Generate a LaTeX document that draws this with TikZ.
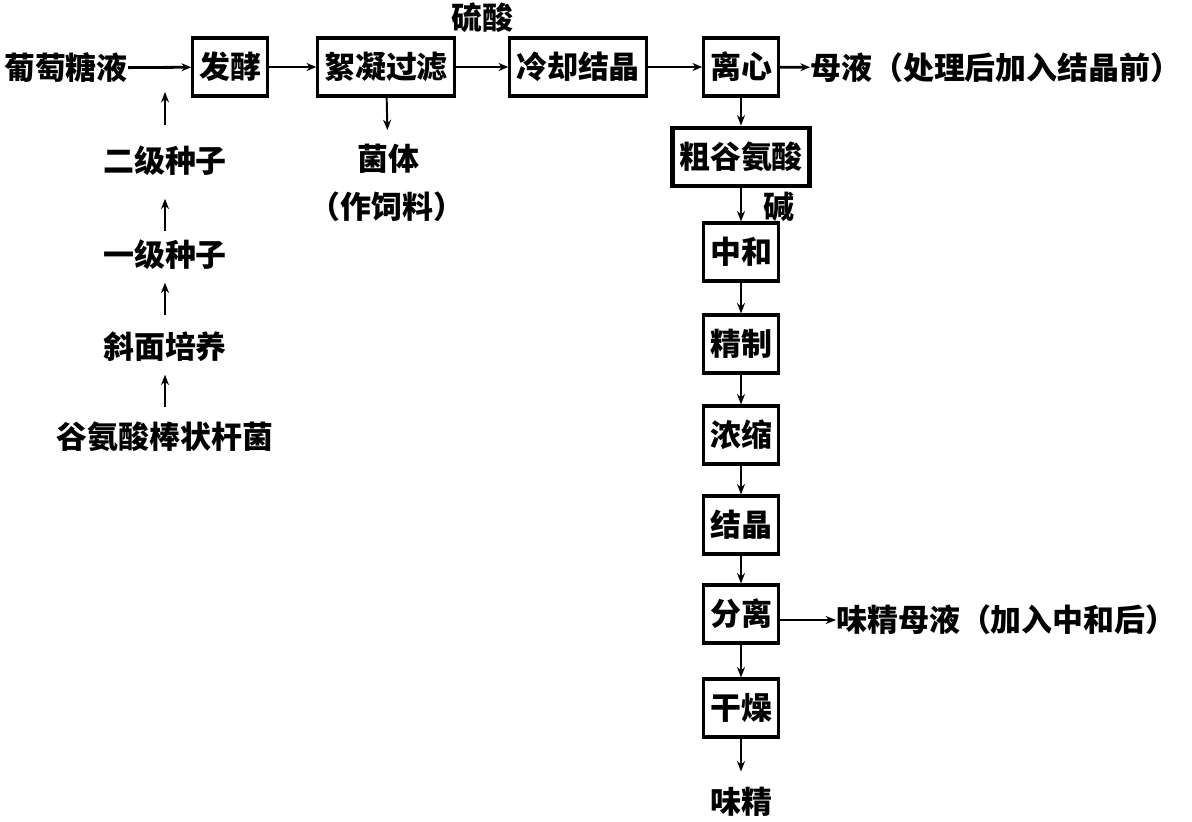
\documentclass[tikz,border=0pt]{standalone}
\usepackage{fontspec}
\setmainfont{Noto Sans CJK SC}
\usetikzlibrary{arrows.meta}
\tikzset{
  box/.style={draw, line width=2.2pt, minimum height=1.45cm, inner xsep=0.16cm, inner ysep=0pt},
  lbl/.style={inner sep=0pt, text height=0.68cm, text depth=0.09cm},
  arr/.style={line width=2pt, -{Stealth[length=0.24cm, width=0.2cm]}},
  varr/.style={line width=1.4pt, -{Stealth[length=0.26cm, width=0.2cm]}}
}

\begin{document}
\begin{tikzpicture}[x=0.025cm, y=-0.025cm, font=\fontsize{22}{26}\selectfont\bfseries]
		\useasboundingbox (0,0) rectangle (1192,822);
		\node[lbl] (ptt) at (66,68) {葡萄糖液};
		\node[box] (fj) at (230,67) {发酵};
		\node[box] (xn) at (386,67) {絮凝过滤};
		\node[lbl] (ls) at (482,18) {硫酸};
		\node[box] (lq) at (578,67) {冷却结晶};
		\node[box] (lx) at (741,67) {离心};
		\node[lbl, anchor=west] (my) at (810,68) {母液（处理后加入结晶前）};
		\node[box, line width=3.5pt] (cg) at (741,157) {粗谷氨酸};
		\node[lbl] (jian) at (779,207) {碱};
		\node[box] (zh) at (741,252) {中和};
		\node[box] (jz) at (741,344) {精制};
		\node[box] (ns) at (741,435) {浓缩};
		\node[box] (jj) at (741,525) {结晶};
		\node[box] (fl) at (741,614) {分离};
		\node[lbl, anchor=west] (wjmy) at (836,620) {味精母液（加入中和后）};
		\node[box] (gz) at (741,708) {干燥};
		\node[lbl] (wj) at (741,802) {味精};
		\node[lbl] (jt) at (388,159) {菌体};
		\node[lbl] (sl) at (387,207) {（作饲料）};
		\node[lbl] (ej) at (165,161) {二级种子};
		\node[lbl] (yj) at (165,255) {一级种子};
		\node[lbl] (xm) at (165,347) {斜面培养};
		\node[lbl] (gu) at (165,437) {谷氨酸棒状杆菌};
		\coordinate (feed) at (165,92);
		
		\draw[arr] (ptt) -- (fj);
		\draw[arr] (fj) -- (xn);
		\draw[arr] (xn) -- (lq);
		\draw[arr] (lq) -- (lx);
		\draw[arr] (lx) -- (my);
		\draw[varr] (wjmy.west -| fl.east) -- (wjmy.west);
		\draw[varr, shorten >=0.33cm] (xn) -- (jt);
		\draw[varr] (lx) -- (cg);
		\draw[varr] (cg) -- (zh);
		\draw[varr] (zh) -- (jz);
		\draw[varr] (jz) -- (ns);
		\draw[varr] (ns) -- (jj);
		\draw[varr] (jj) -- (fl);
		\draw[varr] (fl) -- (gz);
		\draw[varr, shorten >=0.37cm] (gz) -- (wj);
		\draw[varr, shorten <=0.52cm] (ej) -- (feed);
		\draw[varr, shorten <=0.2cm, shorten >=0.55cm] (yj) -- (ej);
		\draw[varr, shorten <=0.4cm, shorten >=0.3cm] (xm) -- (yj);
		\draw[varr, shorten <=0.37cm, shorten >=0.3cm] (gu) -- (xm);
	\end{tikzpicture}
\end{document}
